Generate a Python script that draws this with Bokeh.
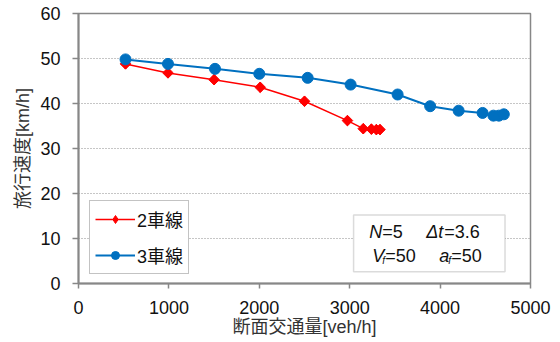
import math
from bokeh.plotting import figure
from bokeh.models import (Range1d, FixedTicker, Legend, LegendItem, BoxAnnotation, Label)
from bokeh.embed import file_html
from bokeh.resources import INLINE

# data
flow_2 = [520, 990, 1500, 2010, 2500, 2975, 3150, 3240, 3295, 3335]
speed_2 = [48.8, 46.8, 45.3, 43.6, 40.5, 36.2, 34.4, 34.3, 34.2, 34.2]
flow_3 = [520, 990, 1510, 2000, 2535, 3010, 3530, 3890, 4205, 4470, 4590, 4650, 4705]
speed_3 = [49.8, 48.8, 47.7, 46.6, 45.7, 44.2, 42.0, 39.4, 38.4, 37.9, 37.3, 37.3, 37.6]
x_ticks = [0, 1000, 2000, 3000, 4000, 5000]
y_ticks = [0, 10, 20, 30, 40, 50, 60]
label_2 = "2車線"
label_3 = "3車線"
x_title = "断面交通量[veh/h]"
y_title = "旅行速度[km/h]"

FONT = "Liberation Sans, Arial, 'Noto Sans CJK JP'"
GRAY = "#878787"

p = figure(width=560, height=342, output_backend="svg", toolbar_location=None,
           x_range=Range1d(0, 5000), y_range=Range1d(0, 60),
           min_border_left=78, min_border_right=30, min_border_top=13, min_border_bottom=59)
p.background_fill_color = "white"
p.border_fill_color = "white"
p.outline_line_color = GRAY
p.outline_line_width = 1.5

p.xgrid.grid_line_color = None
p.ygrid.grid_line_color = "#8c8c8c"
p.ygrid.grid_line_dash = "1 2"
p.ygrid.grid_line_width = 1

for ax, ticks in ((p.xaxis[0], x_ticks), (p.yaxis[0], y_ticks)):
    ax.ticker = FixedTicker(ticks=ticks)
    ax.minor_tick_line_color = None
    ax.axis_line_color = GRAY
    ax.axis_line_width = 2
    ax.major_tick_line_color = GRAY
    ax.major_tick_line_width = 1.5
    ax.major_tick_in = 0
    ax.major_label_text_font = FONT
    ax.major_label_text_font_size = "18px"
    ax.major_label_text_color = "#111111"
    ax.axis_label_text_font = FONT
    ax.axis_label_text_font_size = "18px"
    ax.axis_label_text_font_style = "normal"
    ax.axis_label_text_color = "#333333"

p.xaxis.major_tick_out = 5
p.xaxis.major_label_standoff = 12
p.xaxis.axis_label = x_title
p.xaxis.axis_label_standoff = 0
p.yaxis.major_tick_out = 6
p.yaxis.major_label_standoff = 12
p.yaxis.axis_label = y_title
p.yaxis.axis_label_standoff = 4

rl = p.line(flow_2, speed_2, line_color="#FF0000", line_width=1.5)
# diamond markers (used by the legend), covered by the rotated-square markers
rs_leg = p.scatter(flow_2, speed_2, marker="diamond", size=10,
                   fill_color="#FF0000", line_color="#FF0000")
rs = p.scatter(flow_2, speed_2, marker="square", size=7.5, angle=math.pi / 4,
               fill_color="#FF0000", line_color="#FF0000")
bl = p.line(flow_3, speed_3, line_color="#0070C0", line_width=2)
bs = p.scatter(flow_3, speed_3, marker="circle", size=11, fill_color="#0070C0", line_color="#0070C0")

legend = Legend(items=[LegendItem(label=label_2, renderers=[rl, rs_leg]),
                       LegendItem(label=label_3, renderers=[bl, bs])],
                location=(11, 9), margin=0, padding=5, spacing=10,
                glyph_width=40, glyph_height=20, label_standoff=2,
                label_text_font=FONT, label_text_font_size="18px",
                label_text_color="#111111",
                border_line_color=GRAY, border_line_width=1.5,
                background_fill_color="white", background_fill_alpha=1)
p.add_layout(legend)

# parameter box
p.add_layout(BoxAnnotation(left=3043, right=4718, bottom=2.6, top=15.2,
                           fill_color="white", fill_alpha=1,
                           line_color=GRAY, line_width=1.5, level="annotation"))

x0_line1 = 3215
x0_line2 = 3250
y_line1 = 11.4
y_line2 = 6.1
pieces = [
    ("N", x0_line1, y_line1, 0, "italic", "18px"),
    ("=5", x0_line1, y_line1, 13, "normal", "18px"),
    ("Δt", x0_line1, y_line1, 57, "italic", "18px"),
    ("=3.6", x0_line1, y_line1, 75, "normal", "18px"),
    ("V", x0_line2, y_line2, 0, "italic", "18px"),
    ("f", x0_line2, y_line2 - 1.0, 10, "italic", "10px"),
    ("=50", x0_line2, y_line2, 13, "normal", "18px"),
    ("a", x0_line2, y_line2, 67, "italic", "18px"),
    ("f", x0_line2, y_line2 - 1.0, 76, "italic", "10px"),
    ("=50", x0_line2, y_line2, 79, "normal", "18px"),
]
for txt, xx, yy, off, style, size in pieces:
    p.add_layout(Label(x=xx, y=yy, x_offset=off, text=txt, text_font=FONT,
                       text_font_size=size, text_font_style=style,
                       text_color="#111111", text_baseline="middle",
                       text_align="left", level="annotation"))

open("out.html", "w").write(file_html(p, INLINE))
